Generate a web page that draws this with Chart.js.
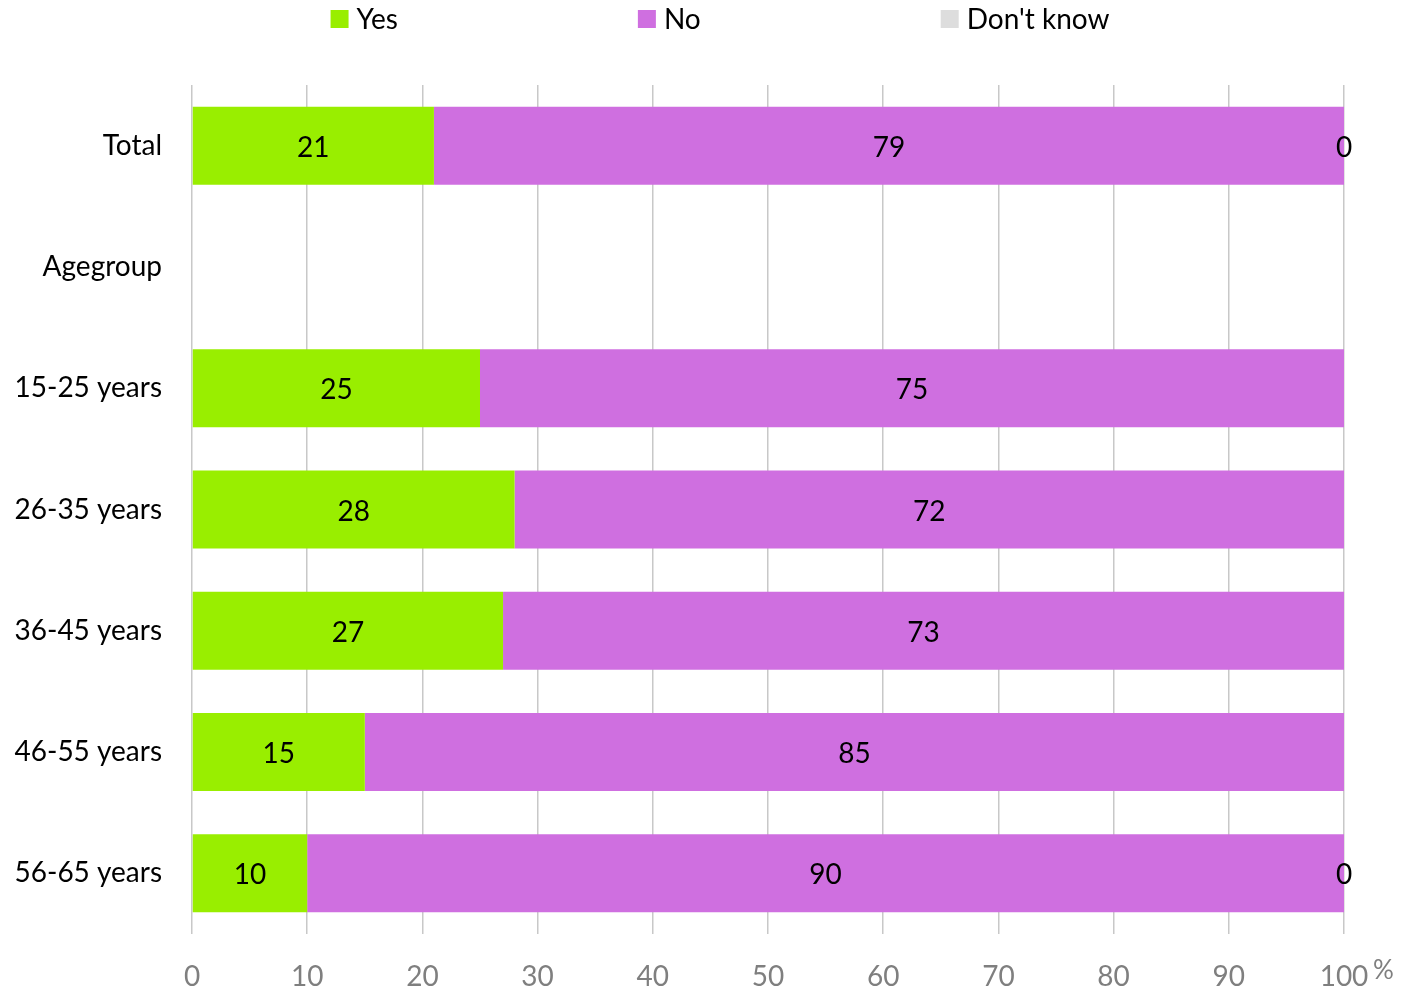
<!DOCTYPE html>
<html>
<head>
<meta charset="utf-8">
<title>Yes / No by age group</title>
<script src="https://cdn.jsdelivr.net/npm/chart.js@4.4.1/dist/chart.umd.min.js"></script>
<style>
  html, body { margin: 0; padding: 0; background: #ffffff; }
  #wrap { width: 1414px; height: 990px; }
</style>
</head>
<body>
<div id="wrap"><canvas id="chart" width="1414" height="990"></canvas></div>
<script>
// Row labels (the "Agegroup" row is a heading with no bar)
const categories = ['Total', 'Agegroup', '15-25 years', '26-35 years', '36-45 years', '46-55 years', '56-65 years'];

// Shares in percent
const yesValues      = [21, null, 25, 28, 27, 15, 10];
const noValues       = [79, null, 75, 72, 73, 85, 90];
const dontKnowValues = [0, null, null, null, null, null, 0];

const seriesNames = ['Yes', 'No', "Don't know"];
const xTickValues = [0, 10, 20, 30, 40, 50, 60, 70, 80, 90, 100];

const FONT = 'Lato, "Open Sans", "DejaVu Sans", sans-serif';

// Writes each bar's value in the middle of its segment
const valueLabels = {
  id: 'valueLabels',
  afterDatasetsDraw(chart) {
    const ctx = chart.ctx;
    ctx.save();
    ctx.font = '28px ' + FONT;
    ctx.fillStyle = '#000000';
    ctx.textAlign = 'center';
    ctx.textBaseline = 'middle';
    chart.data.datasets.forEach((ds, di) => {
      const meta = chart.getDatasetMeta(di);
      if (meta.hidden) return;
      meta.data.forEach((bar, i) => {
        const v = ds.data[i];
        if (v === null || v === undefined) return;
        const cx = (bar.x + bar.base) / 2;
        ctx.fillText(String(v), cx, bar.y + 2);
      });
    });
    ctx.restore();
  }
};

// Legend row across the top with wide spacing between entries
const topLegend = {
  id: 'topLegend',
  afterDraw(chart) {
    const ctx = chart.ctx;
    const box = 18, gapText = 8, gapItem = 240;
    ctx.save();
    ctx.font = '28px ' + FONT;
    ctx.textBaseline = 'middle';
    ctx.textAlign = 'left';
    const items = chart.data.datasets.map(ds => ({
      label: ds.label, color: ds.backgroundColor,
      w: box + gapText + ctx.measureText(ds.label).width
    }));
    const total = items.reduce((s, it) => s + it.w, 0) + gapItem * (items.length - 1);
    let x = 720 - total / 2;
    const y = 19;
    items.forEach(it => {
      ctx.fillStyle = it.color;
      ctx.fillRect(x, y - box / 2, box, box);
      ctx.fillStyle = '#000000';
      ctx.fillText(it.label, x + box + gapText, y + 1);
      x += it.w + gapItem;
    });
    ctx.restore();
  }
};

// Percent sign after the last tick of the value axis
const percentSign = {
  id: 'percentSign',
  afterDraw(chart) {
    const xs = chart.scales.x;
    const ctx = chart.ctx;
    ctx.save();
    ctx.font = '26px ' + FONT;
    ctx.fillStyle = '#7f7f7f';
    ctx.textAlign = 'left';
    ctx.textBaseline = 'middle';
    ctx.fillText('%', xs.getPixelForValue(100) + 29, 971);
    ctx.restore();
  }
};

new Chart(document.getElementById('chart'), {
  type: 'bar',
  data: {
    labels: categories,
    datasets: [
      { label: seriesNames[0], data: yesValues,      backgroundColor: '#99EE00' },
      { label: seriesNames[1], data: noValues,       backgroundColor: '#CF6FE0' },
      { label: seriesNames[2], data: dontKnowValues, backgroundColor: '#DDDDDD' }
    ]
  },
  options: {
    indexAxis: 'y',
    responsive: false,
    animation: false,
    devicePixelRatio: 1,
    layout: { padding: { top: 85, right: 70, left: 0, bottom: 0 } },
    datasets: {
      bar: { categoryPercentage: 1, barPercentage: 0.643, borderWidth: 0 }
    },
    plugins: {
      legend: { display: false },
      tooltip: { enabled: false }
    },
    scales: {
      x: {
        stacked: true,
        min: 0,
        max: 100,
        afterBuildTicks(scale) { scale.ticks = xTickValues.map(v => ({ value: v })); },
        afterFit(scale) { scale.height = 56; },
        grid: { color: '#c8c8c8', lineWidth: 1.5, drawTicks: false },
        border: { display: false },
        ticks: {
          color: '#7f7f7f',
          padding: 26,
          font: { family: FONT, size: 28 },
          maxRotation: 0,
          autoSkip: false
        }
      },
      y: {
        stacked: true,
        afterFit(scale) { scale.width = 192; },
        grid: { display: false },
        border: { display: false },
        ticks: {
          color: '#000000',
          padding: 22,
          font: { family: FONT, size: 28 },
          autoSkip: false
        }
      }
    }
  },
  plugins: [valueLabels, topLegend, percentSign]
});
</script>
</body>
</html>
